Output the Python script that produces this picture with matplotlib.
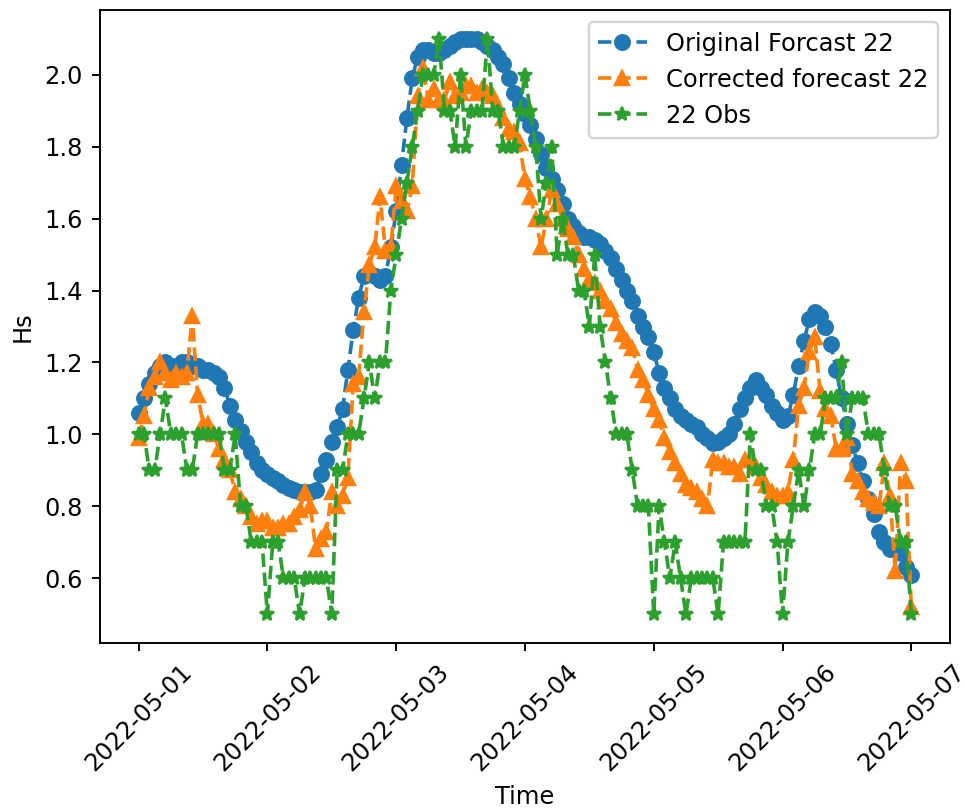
import pandas as pd
import matplotlib
matplotlib.use("Agg")
import matplotlib.pyplot as plt

# hourly values, 2022-05-01 00:00 -> 2022-05-07 00:00
time = pd.date_range("2022-05-01", periods=145, freq="h")

original = [
    1.06, 1.10, 1.14, 1.17, 1.19, 1.20, 1.19, 1.19, 1.20, 1.20,
    1.19, 1.19, 1.18, 1.18, 1.17, 1.16, 1.13, 1.08, 1.04, 1.01,
    0.98, 0.95, 0.92, 0.90, 0.89, 0.88, 0.87, 0.86, 0.85, 0.845,
    0.84, 0.84, 0.84, 0.845, 0.89, 0.93, 0.98, 1.02, 1.07, 1.18,
    1.29, 1.38, 1.44, 1.45, 1.44, 1.43, 1.44, 1.52, 1.62, 1.75,
    1.88, 1.99, 2.05, 2.07, 2.07, 2.06, 2.06, 2.07, 2.08, 2.09,
    2.10, 2.10, 2.10, 2.10, 2.09, 2.08, 2.07, 2.05, 2.03, 1.99,
    1.95, 1.92, 1.89, 1.86, 1.82, 1.78, 1.74, 1.71, 1.68, 1.64,
    1.60, 1.58, 1.56, 1.55, 1.55, 1.54, 1.53, 1.51, 1.49, 1.46,
    1.43, 1.40, 1.37, 1.33, 1.30, 1.27, 1.23, 1.17, 1.13, 1.10,
    1.07, 1.05, 1.04, 1.03, 1.02, 1.00, 0.99, 0.975, 0.98, 0.99,
    1.00, 1.03, 1.07, 1.10, 1.13, 1.15, 1.13, 1.11, 1.08, 1.06,
    1.04, 1.05, 1.11, 1.19, 1.26, 1.32, 1.34, 1.33, 1.30, 1.25,
    1.18, 1.10, 1.03, 0.97, 0.92, 0.87, 0.82, 0.78, 0.73, 0.70,
    0.68, 0.68, 0.67, 0.63, 0.61,
]

corrected = [
    0.99, 1.05, 1.13, 1.16, 1.20, 1.17, 1.15, 1.17, 1.16, 1.17,
    1.33, 1.11, 1.03, 1.03, 1.00, 0.96, 0.93, 0.90, 0.84, 0.82,
    0.80, 0.77, 0.75, 0.76, 0.76, 0.74, 0.74, 0.75, 0.75, 0.77,
    0.79, 0.84, 0.80, 0.68, 0.71, 0.73, 0.84, 0.80, 0.83, 0.88,
    1.14, 1.16, 1.34, 1.47, 1.52, 1.66, 1.51, 1.52, 1.69, 1.65,
    1.62, 1.69, 1.94, 2.02, 1.93, 1.96, 1.93, 1.93, 1.98, 1.94,
    1.95, 1.97, 1.97, 1.95, 1.96, 1.95, 1.94, 1.91, 1.88, 1.85,
    1.84, 1.81, 1.71, 1.66, 1.60, 1.52, 1.60, 1.68, 1.64, 1.60,
    1.57, 1.55, 1.50, 1.46, 1.43, 1.42, 1.40, 1.37, 1.35, 1.31,
    1.28, 1.26, 1.24, 1.18, 1.15, 1.11, 1.07, 1.04, 0.99, 0.95,
    0.92, 0.89, 0.86, 0.85, 0.84, 0.82, 0.80, 0.93, 0.92, 0.92,
    0.91, 0.91, 0.89, 0.93, 0.93, 0.91, 0.88, 0.86, 0.84, 0.83,
    0.83, 0.84, 0.93, 1.08, 1.13, 1.23, 1.27, 1.12, 1.07, 1.05,
    0.96, 0.96, 0.99, 0.89, 0.87, 0.84, 0.82, 0.81, 0.80, 0.92,
    0.83, 0.62, 0.92, 0.87, 0.52,
]

obs = [
    1.0, 1.0, 0.9, 0.9, 1.0, 1.1, 1.0, 1.0, 1.0, 0.9,
    0.9, 1.0, 1.0, 1.0, 1.0, 1.0, 0.9, 0.9, 1.0, 0.8,
    0.8, 0.7, 0.7, 0.7, 0.5, 0.7, 0.7, 0.6, 0.6, 0.6,
    0.5, 0.6, 0.6, 0.6, 0.6, 0.6, 0.5, 0.9, 0.9, 1.0,
    1.0, 1.0, 1.1, 1.2, 1.1, 1.2, 1.2, 1.4, 1.5, 1.6,
    1.7, 1.8, 1.9, 2.0, 2.0, 2.0, 2.1, 1.9, 1.9, 1.8,
    2.0, 1.8, 1.9, 1.9, 1.9, 2.1, 1.9, 1.9, 1.8, 1.8,
    1.8, 1.9, 2.0, 1.9, 1.8, 1.6, 1.7, 1.8, 1.5, 1.6,
    1.5, 1.5, 1.4, 1.4, 1.3, 1.5, 1.3, 1.2, 1.1, 1.0,
    1.0, 1.0, 0.9, 0.8, 0.8, 0.8, 0.5, 0.8, 0.7, 0.6,
    0.7, 0.6, 0.5, 0.6, 0.6, 0.6, 0.6, 0.6, 0.5, 0.7,
    0.7, 0.7, 0.7, 0.7, 1.0, 0.9, 0.9, 0.8, 0.8, 0.7,
    0.5, 0.7, 0.8, 0.9, 0.8, 0.9, 1.0, 1.0, 1.1, 1.1,
    1.1, 1.2, 1.0, 1.1, 1.1, 1.1, 1.0, 1.0, 1.0, 0.9,
    0.8, 0.8, 0.7, 0.7, 0.5,
]

DPI = 174
fig = plt.figure(figsize=(965 / DPI, 808 / DPI), dpi=DPI)
ax = fig.add_axes([0.1036, 0.2042, 0.8808, 0.7834])

ax.plot(time, original, "o--", label="Original Forcast 22")
ax.plot(time, corrected, "^--", label="Corrected forecast 22")
ax.plot(time, obs, "*--", label="22 Obs")

ax.set_xlabel("Time")
ax.set_ylabel("Hs")
plt.xticks(rotation=45)
ax.legend(loc="upper right")

fig.savefig("out.png", dpi=DPI)
